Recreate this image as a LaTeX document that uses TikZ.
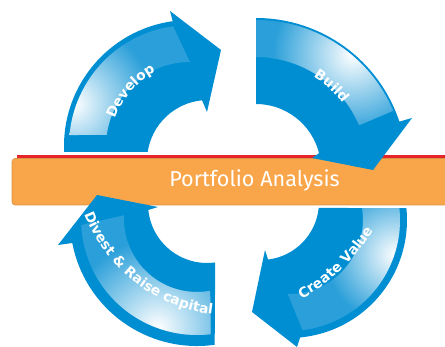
\documentclass[tikz,border=0pt]{standalone}
\usepackage{fontspec}
\setmainfont{DejaVu Sans}
\newfontfamily\barfont{Fira Sans}
\usetikzlibrary{calc,decorations.text}

\definecolor{arrowblue}{RGB}{0,142,211}
\definecolor{bandblue}{RGB}{42,159,217}
\definecolor{barorange}{RGB}{249,166,74}
\definecolor{barred}{RGB}{230,37,43}

\tikzset{
  body/.style={fill=arrowblue},
  band/.style={fill=bandblue},
  glow/.style={inner color=white, outer color=bandblue},
  curved label/.style={decorate, decoration={text along path, text align=center,
      text color=white, text={|\bfseries\fontsize{13.8}{14}\selectfont|#1}}}
}

\begin{document}
\begin{tikzpicture}[x=1pt,y=1pt]
  \useasboundingbox (0,0) rectangle (445,346);

  % centres of the arcs
  \coordinate (Do) at (190,200);
  \coordinate (Di) at (208,185);
  \coordinate (Dt) at (197,197);
  \coordinate (Bc) at (256,177);
  \coordinate (Co) at (289,126);
  \coordinate (Ci) at (261,144);
  \coordinate (Ct) at (205,218.5);
  \coordinate (Vo) at (197,127);
  \coordinate (Vi) at (207,142);
  \coordinate (Vt) at (232,189);

  % the bar
  \fill[barred] (17,184) rectangle (450,190.5);
  \filldraw[fill=barorange, draw=barorange!88!black, line width=.6pt, rounded corners=3pt]
    (12,141) rectangle (460,187.5);
  \node[font=\barfont\fontsize{21.6}{24}\selectfont, text=white, anchor=base] (pa)
    at (254.5,159.3) {Portfolio Analysis};

  % Develop
  \fill[body] ($(Do)+(182.7:126pt)$) arc[start angle=182.7, end angle=97.9, radius=126pt]
    -- (170,335) -- (221,296) -- (207,234)
    -- ($(Di)+(95.6:61pt)$) arc[start angle=95.6, end angle=171.5, radius=61pt] -- cycle;
  \begin{scope}
    \clip ($(Do)+(174.8:121pt)$) arc[start angle=174.8, end angle=98, radius=121pt]
      -- ($(Do)+(90:84pt)$) arc[start angle=90, end angle=172.4, radius=84pt] -- cycle;
    \fill[band] (0,0) rectangle (445,346);
    \shade[glow] ($(Do)+(160:124pt)$) circle (80pt);
  \end{scope}
  \path[curved label={Develop}] ($(Dt)+(179:87.5pt)$) arc[start angle=179, end angle=99, radius=87.5pt];

  % Build
  \fill[body] ($(Bc)+(90:151pt)$) arc[start angle=90, end angle=18.3, radius=151pt]
    -- (412,228) -- (373,176) -- (312,188)
    -- ($(Bc)+(14:65pt)$) arc[start angle=14, end angle=90, radius=65pt] -- cycle;
  \begin{scope}
    \clip ($(Bc)+(90:149pt)$) arc[start angle=90, end angle=23, radius=149pt]
      -- ($(Bc)+(23:112pt)$) arc[start angle=23, end angle=90, radius=112pt] -- cycle;
    \fill[band] (0,0) rectangle (445,346);
    \shade[glow] ($(Bc)+(50:150pt)$) circle (80pt);
  \end{scope}
  \path[curved label={Build}] ($(Bc)+(87.6:108.5pt)$) arc[start angle=87.6, end angle=7.6, radius=108.5pt];

  % Create Value
  \fill[body] ($(Co)+(5.8:118pt)$) arc[start angle=5.8, end angle=-84.6, radius=118pt]
    -- (297,-1) -- (252,34) -- (265,96)
    -- ($(Ci)+(-83:58pt)$) arc[start angle=-83, end angle=-5.9, radius=58pt] -- cycle;
  \begin{scope}
    \clip ($(Co)+(6.1:111pt)$) arc[start angle=6.1, end angle=-83, radius=111pt]
      -- ($(Co)+(-91:74pt)$) arc[start angle=-91, end angle=9.3, radius=74pt] -- cycle;
    \fill[band] (0,0) rectangle (445,346);
    \shade[glow] ($(Co)+(-18:112pt)$) circle (70pt);
  \end{scope}
  \path[curved label={Create Value}] ($(Ct)+(-76:197pt)$) arc[start angle=-76, end angle=-16, radius=197pt];

  % Divest & Raise capital
  \fill[body] ($(Vo)+(-82:127pt)$) arc[start angle=-82, end angle=-169.1, radius=127pt]
    -- (58,101) -- (97,151) -- (158,139)
    -- ($(Vi)+(-174.2:59pt)$) arc[start angle=-174.2, end angle=-82, radius=59pt] -- cycle;
  \begin{scope}
    \clip ($(Vo)+(-83.2:116pt)$) arc[start angle=-83.2, end angle=-177, radius=116pt]
      -- ($(Vo)+(-183:73pt)$) arc[start angle=-183, end angle=-79.6, radius=73pt] -- cycle;
    \fill[band] (0,0) rectangle (445,346);
    \shade[glow] ($(Vo)+(-110:116pt)$) circle (90pt);
  \end{scope}
  \path[curved label={Divest {\&} Raise capital}] ($(Vt)+(187:158.5pt)$) arc[start angle=187, end angle=277, radius=158.5pt];

\end{tikzpicture}
\end{document}
